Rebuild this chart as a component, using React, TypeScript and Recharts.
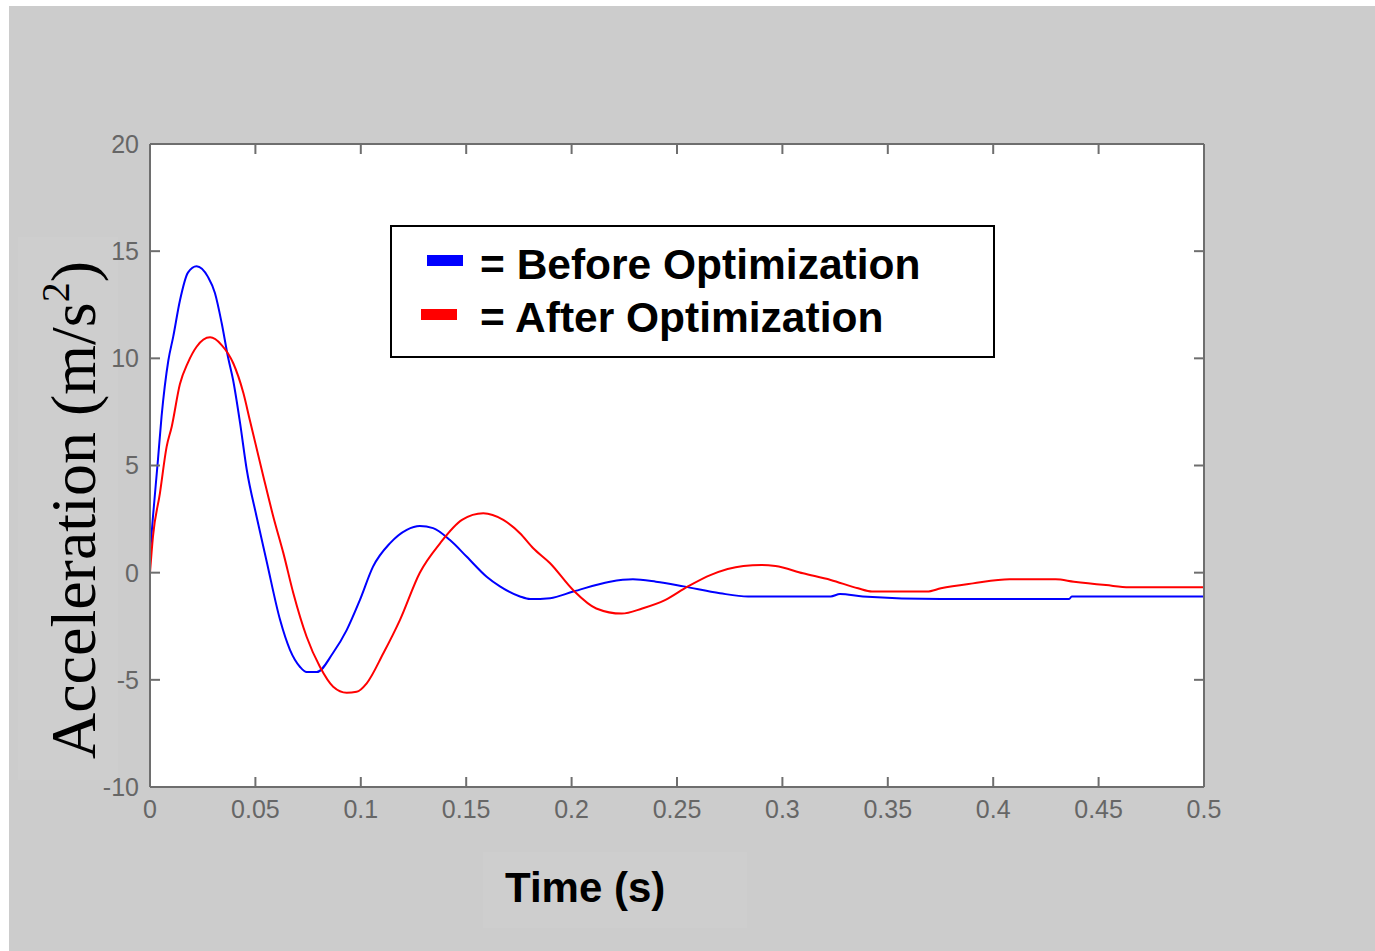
import React from "react";
import { LineChart, Line, XAxis, YAxis, CartesianGrid } from "recharts";

// series labels + colours
const seriesNames = ["Before Optimization", "After Optimization"];
const seriesColors = ["#0000ff", "#ff0000"];

const xTicks = [0, 0.05, 0.1, 0.15, 0.2, 0.25, 0.3, 0.35, 0.4, 0.45, 0.5];
const yTicks = [-10, -5, 0, 5, 10, 15, 20];
const innerYTicks = [-5, 0, 5, 10, 15];
const innerXTicks = [0.05, 0.1, 0.15, 0.2, 0.25, 0.3, 0.35, 0.4, 0.45];

// (time in s, acceleration in m/s^2)
const beforeTime = [
  0, 0.0014, 0.0038, 0.0055, 0.0087, 0.011, 0.0142, 0.018, 0.0221, 0.0275, 0.0308,
  0.034, 0.037, 0.0394, 0.0427, 0.0459, 0.0506, 0.0554, 0.0617, 0.0664, 0.0712,
  0.0743, 0.0791, 0.0868, 0.0933, 0.0996, 0.1058, 0.1139, 0.1218, 0.128, 0.1343,
  0.1423, 0.1503, 0.1597, 0.166, 0.1755, 0.1803, 0.1898, 0.2008, 0.2182, 0.2291,
  0.24, 0.2532, 0.2704, 0.2837, 0.3229, 0.3273, 0.3381, 0.3752, 0.436, 0.4373, 0.5,
];
const beforeAccel = [
  0.9, 2.6, 5.3, 7.3, 9.9, 11, 12.7, 14.0, 14.3, 13.8, 13.05,
  11.65, 10.06, 9.0, 7.0, 4.8, 2.6, 0.5, -2.2, -3.6, -4.4,
  -4.64, -4.64, -3.75, -2.68, -1.27, 0.28, 1.38, 2.0, 2.18, 2.08,
  1.52, 0.74, -0.19, -0.64, -1.11, -1.23, -1.19, -0.88, -0.42, -0.31,
  -0.42, -0.64, -0.96, -1.11, -1.11, -1.0, -1.11, -1.23, -1.23, -1.11, -1.11,
];

const afterTime = [
  0, 0.0014, 0.0047, 0.0079, 0.0103, 0.0142, 0.018, 0.0221, 0.0285, 0.034, 0.0395,
  0.0443, 0.0474, 0.0538, 0.0585, 0.0633, 0.068, 0.0743, 0.0806, 0.0869, 0.0933,
  0.098, 0.1028, 0.1107, 0.1186, 0.128, 0.1376, 0.148, 0.1581, 0.1676, 0.1755,
  0.1818, 0.1898, 0.2008, 0.2117, 0.2238, 0.2335, 0.2443, 0.2552, 0.2661, 0.2815,
  0.2902, 0.2967, 0.3098, 0.3229, 0.3359, 0.3425, 0.3686, 0.3752, 0.3904, 0.4078,
  0.4296, 0.4383, 0.4535, 0.4645, 0.5,
];
const afterAccel = [
  0, 1.68, 3.7, 5.88, 6.81, 8.8, 9.8, 10.54, 10.98, 10.62, 9.77,
  8.38, 7.1, 4.48, 2.61, 0.9, -0.96, -2.99, -4.39, -5.32, -5.6,
  -5.56, -5.16, -3.76, -2.2, 0.0, 1.37, 2.46, 2.77, 2.46, 1.84,
  1.14, 0.44, -0.82, -1.67, -1.91, -1.67, -1.28, -0.64, -0.1, 0.31,
  0.36, 0.31, -0.03, -0.34, -0.73, -0.88, -0.88, -0.73, -0.5, -0.31,
  -0.31, -0.42, -0.58, -0.68, -0.68,
];

const beforeData = beforeTime.map((t, i) => ({ t, a: beforeAccel[i] }));
const afterData = afterTime.map((t, i) => ({ t, a: afterAccel[i] }));

const AXIS = "#6e6e6e";
const tickFont = { fill: "#666666", fontSize: 25, fontFamily: "Liberation Sans, Arial, sans-serif" };
const noLabel = () => <g />;

function YLabel() {
  return (
    <text
      x={95}
      y={510}
      transform="rotate(-90, 95, 510)"
      textAnchor="middle"
      fill="#000"
      fontSize={64}
      fontFamily="Liberation Serif, Times New Roman, serif"
    >
      Acceleration (m/s
      <tspan dy={-26} fontSize={40}>2</tspan>
      <tspan dy={26}>)</tspan>
    </text>
  );
}

export default function App() {
  return (
    <div style={{ position: "absolute", left: 0, top: 0, width: 1375, height: 951, background: "#fff", overflow: "hidden" }}>
      <div style={{ position: "absolute", left: 9, top: 6, right: 0, bottom: 0, background: "#cccccc" }} />
      {/* faint patches behind the axis titles */}
      <div style={{ position: "absolute", left: 18, top: 237, width: 100, height: 543, background: "#cecece" }} />
      <div style={{ position: "absolute", left: 483, top: 852, width: 264, height: 76, background: "#cecece" }} />

      <div style={{ position: "absolute", left: 0, top: 0 }}>
        <LineChart width={1375} height={951} margin={{ top: 143, right: 170, bottom: 0, left: 0 }}>
          <CartesianGrid fill="#ffffff" horizontal={false} vertical={false} />
          <XAxis
            dataKey="t"
            type="number"
            domain={[0, 0.5]}
            ticks={xTicks}
            allowDataOverflow
            height={164}
            axisLine={{ stroke: AXIS, strokeWidth: 2 }}
            tickLine={{ stroke: AXIS, strokeWidth: 2 }}
            tickSize={-10}
            tickMargin={23}
            tick={tickFont}
            interval={0}
          />
          <XAxis
            xAxisId="top"
            dataKey="t"
            orientation="top"
            type="number"
            domain={[0, 0.5]}
            ticks={innerXTicks}
            allowDataOverflow
            height={1}
            axisLine={{ stroke: AXIS, strokeWidth: 2 }}
            tickLine={{ stroke: AXIS, strokeWidth: 2 }}
            tickSize={-10}
            tick={noLabel}
            interval={0}
          />
          <YAxis
            type="number"
            domain={[-10, 20]}
            ticks={yTicks}
            allowDataOverflow
            width={150}
            axisLine={{ stroke: AXIS, strokeWidth: 2 }}
            tickLine={{ stroke: AXIS, strokeWidth: 2 }}
            tickSize={-10}
            tickMargin={21}
            tick={tickFont}
            interval={0}
            label={<YLabel />}
          />
          <YAxis
            yAxisId="right"
            orientation="right"
            type="number"
            domain={[-10, 20]}
            ticks={innerYTicks}
            allowDataOverflow
            width={1}
            axisLine={{ stroke: AXIS, strokeWidth: 2 }}
            tickLine={{ stroke: AXIS, strokeWidth: 2 }}
            tickSize={-10}
            tick={noLabel}
            interval={0}
          />
          {/* carrier for the top/right frame axes, not visible */}
          <Line
            data={afterData}
            dataKey="a"
            xAxisId="top"
            yAxisId="right"
            stroke="none"
            dot={false}
            legendType="none"
            isAnimationActive={false}
          />
          <Line
            data={beforeData}
            dataKey="a"
            name={seriesNames[0]}
            type="monotone"
            stroke={seriesColors[0]}
            strokeWidth={2}
            dot={false}
            isAnimationActive={false}
          />
          <Line
            data={afterData}
            dataKey="a"
            name={seriesNames[1]}
            type="monotone"
            stroke={seriesColors[1]}
            strokeWidth={2}
            dot={false}
            isAnimationActive={false}
          />
        </LineChart>
      </div>

      {/* legend box */}
      <div
        style={{
          position: "absolute",
          left: 390,
          top: 225,
          width: 601,
          height: 129,
          background: "#fff",
          border: "2px solid #000",
        }}
      />
      <div style={{ position: "absolute", left: 427, top: 255, width: 36, height: 11, background: seriesColors[0] }} />
      <div style={{ position: "absolute", left: 421, top: 309, width: 36, height: 11, background: seriesColors[1] }} />
      {seriesNames.map((name, i) => (
        <div
          key={name}
          style={{
            position: "absolute",
            left: 480,
            top: 243 + i * 53,
            fontFamily: "Liberation Sans, Arial, sans-serif",
            fontWeight: "bold",
            fontSize: 42.5,
            lineHeight: "43px",
            color: "#000",
            whiteSpace: "nowrap",
          }}
        >
          = {name}
        </div>
      ))}

      {/* x axis title */}
      <div
        style={{
          position: "absolute",
          left: 505,
          top: 867,
          fontFamily: "Liberation Sans, Arial, sans-serif",
          fontWeight: "bold",
          fontSize: 42,
          lineHeight: "42px",
          color: "#000",
          whiteSpace: "nowrap",
        }}
      >
        Time (s)
      </div>
    </div>
  );
}
